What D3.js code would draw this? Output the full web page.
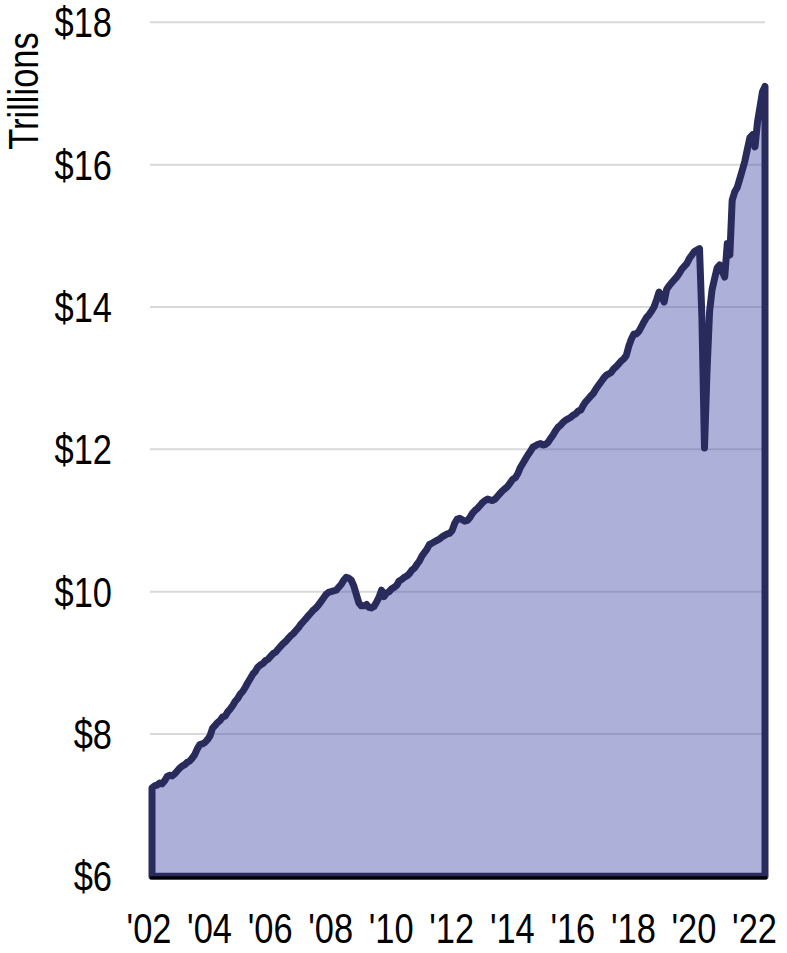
<!DOCTYPE html>
<html>
<head>
<meta charset="utf-8">
<script src="https://cdn.jsdelivr.net/npm/d3@7"></script>
<style>
  body { margin: 0; background: #fff; }
  text { font-family: "Liberation Sans", Arial, sans-serif; fill: #000; }
</style>
</head>
<body>
<div id="chart"></div>
<script>
// Monthly spending, trillions of dollars, Jan 2002 to Apr 2022
const startMonth = new Date(2002, 0, 1);
const values = [
  // 2002
  7.24, 7.27, 7.28, 7.31, 7.30, 7.34, 7.40, 7.42, 7.41, 7.44, 7.48, 7.52,
  // 2003
  7.55, 7.57, 7.60, 7.62, 7.66, 7.71, 7.79, 7.85, 7.86, 7.88, 7.92, 7.97,
  // 2004
  8.08, 8.12, 8.16, 8.19, 8.24, 8.25, 8.31, 8.35, 8.40, 8.46, 8.50, 8.56,
  // 2005
  8.60, 8.66, 8.72, 8.78, 8.84, 8.88, 8.94, 8.97, 8.99, 9.03, 9.05, 9.09,
  // 2006
  9.13, 9.15, 9.19, 9.23, 9.27, 9.30, 9.34, 9.38, 9.41, 9.45, 9.49, 9.54,
  // 2007
  9.58, 9.62, 9.66, 9.70, 9.74, 9.77, 9.81, 9.86, 9.91, 9.96, 9.99, 10.00,
  // 2008
  10.01, 10.02, 10.06, 10.10, 10.16, 10.20, 10.19, 10.16, 10.08, 9.96, 9.84, 9.80,
  // 2009
  9.80, 9.82, 9.78, 9.77, 9.79, 9.85, 9.92, 10.02, 9.93, 9.98, 10.00, 10.04,
  // 2010
  10.06, 10.09, 10.15, 10.17, 10.20, 10.22, 10.25, 10.30, 10.33, 10.38, 10.43, 10.50,
  // 2011
  10.55, 10.60, 10.66, 10.68, 10.70, 10.72, 10.74, 10.77, 10.79, 10.81, 10.82, 10.86,
  // 2012
  10.96, 11.02, 11.03, 11.01, 10.99, 11.00, 11.04, 11.10, 11.14, 11.17, 11.21, 11.25,
  // 2013
  11.28, 11.30, 11.29, 11.28, 11.30, 11.34, 11.38, 11.42, 11.45, 11.48, 11.53, 11.58,
  // 2014
  11.60, 11.66, 11.74, 11.80, 11.86, 11.92, 11.97, 12.03, 12.05, 12.07, 12.08, 12.06,
  // 2015
  12.07, 12.10, 12.15, 12.20, 12.26, 12.31, 12.34, 12.38, 12.41, 12.43, 12.45, 12.48,
  // 2016
  12.50, 12.54, 12.55, 12.62, 12.67, 12.71, 12.75, 12.79, 12.85, 12.90, 12.95, 13.00,
  // 2017
  13.04, 13.06, 13.08, 13.13, 13.16, 13.20, 13.24, 13.27, 13.32, 13.45, 13.55, 13.62,
  // 2018
  13.62, 13.66, 13.72, 13.79, 13.85, 13.89, 13.94, 14.00, 14.10, 14.21, 14.15, 14.07,
  // 2019
  14.25, 14.30, 14.34, 14.38, 14.42, 14.47, 14.53, 14.57, 14.61, 14.68, 14.73, 14.78,
  // 2020
  14.80, 14.82, 13.85, 12.02, 13.08, 13.93, 14.24, 14.40, 14.55, 14.59, 14.50, 14.42,
  // 2021
  14.89, 14.73, 15.50, 15.62, 15.68, 15.80, 15.92, 16.05, 16.22, 16.38, 16.42, 16.25,
  // 2022
  16.60, 16.82, 17.02, 17.10
];

const yTicks = [6, 8, 10, 12, 14, 16, 18];
const xTickYears = [2002, 2004, 2006, 2008, 2010, 2012, 2014, 2016, 2018, 2020, 2022];
const yLabel = "Trillions";

const data = values.map((v, i) => ({
  date: new Date(startMonth.getFullYear(), startMonth.getMonth() + i, 1),
  value: v
}));

// Dimensions (plot box in page pixels)
const width = 787;
const height = 953;
const plot = { left: 152, right: 765, top: 22.3, bottom: 876.3 };
const fontSize = 42;
const narrow = 0.82; // squeeze text horizontally, no narrow face installed

const svg = d3.select("#chart")
  .append("svg")
  .attr("width", width)
  .attr("height", height);

const x = d3.scaleTime()
  .domain(d3.extent(data, d => d.date))
  .range([plot.left, plot.right]);

const y = d3.scaleLinear()
  .domain([6, 18])
  .range([plot.bottom, plot.top]);

// Gridlines
svg.append("g")
  .selectAll("line")
  .data(yTicks.filter(t => t > 6))
  .join("line")
  .attr("x1", plot.left - 2)
  .attr("x2", plot.right)
  .attr("y1", d => y(d))
  .attr("y2", d => y(d))
  .attr("stroke", "#d9d9d9")
  .attr("stroke-width", 2);

// Area, outlined all round
const area = d3.area()
  .x(d => x(d.date))
  .y0(y(6))
  .y1(d => y(d.value));

svg.append("path")
  .datum(data)
  .attr("d", area)
  .attr("fill", "#4a50a8")
  .attr("fill-opacity", 0.45)
  .attr("stroke", "#282b5c")
  .attr("stroke-width", 7)
  .attr("stroke-linejoin", "round");

// Baseline
svg.append("line")
  .attr("x1", plot.left - 2)
  .attr("x2", plot.right + 2)
  .attr("y1", y(6) + 1.5)
  .attr("y2", y(6) + 1.5)
  .attr("stroke", "#000")
  .attr("stroke-width", 3);

// Y tick labels
svg.append("g")
  .selectAll("text")
  .data(yTicks)
  .join("text")
  .attr("transform", d => `translate(112,${y(d)}) scale(${narrow},1)`)
  .attr("dy", "0.36em")
  .attr("text-anchor", "end")
  .attr("font-size", fontSize)
  .text(d => `$${d}`);

// X tick labels
svg.append("g")
  .selectAll("text")
  .data(xTickYears)
  .join("text")
  .attr("transform", d => `translate(${x(new Date(d, 0, 1)) - 3},943) scale(${narrow},1)`)
  .attr("text-anchor", "middle")
  .attr("font-size", fontSize)
  .text(d => "'" + String(d).slice(2));

// Y axis title
svg.append("text")
  .attr("transform", `translate(38,91) rotate(-90) scale(${narrow},1)`)
  .attr("text-anchor", "middle")
  .attr("font-size", fontSize)
  .text(yLabel);
</script>
</body>
</html>
